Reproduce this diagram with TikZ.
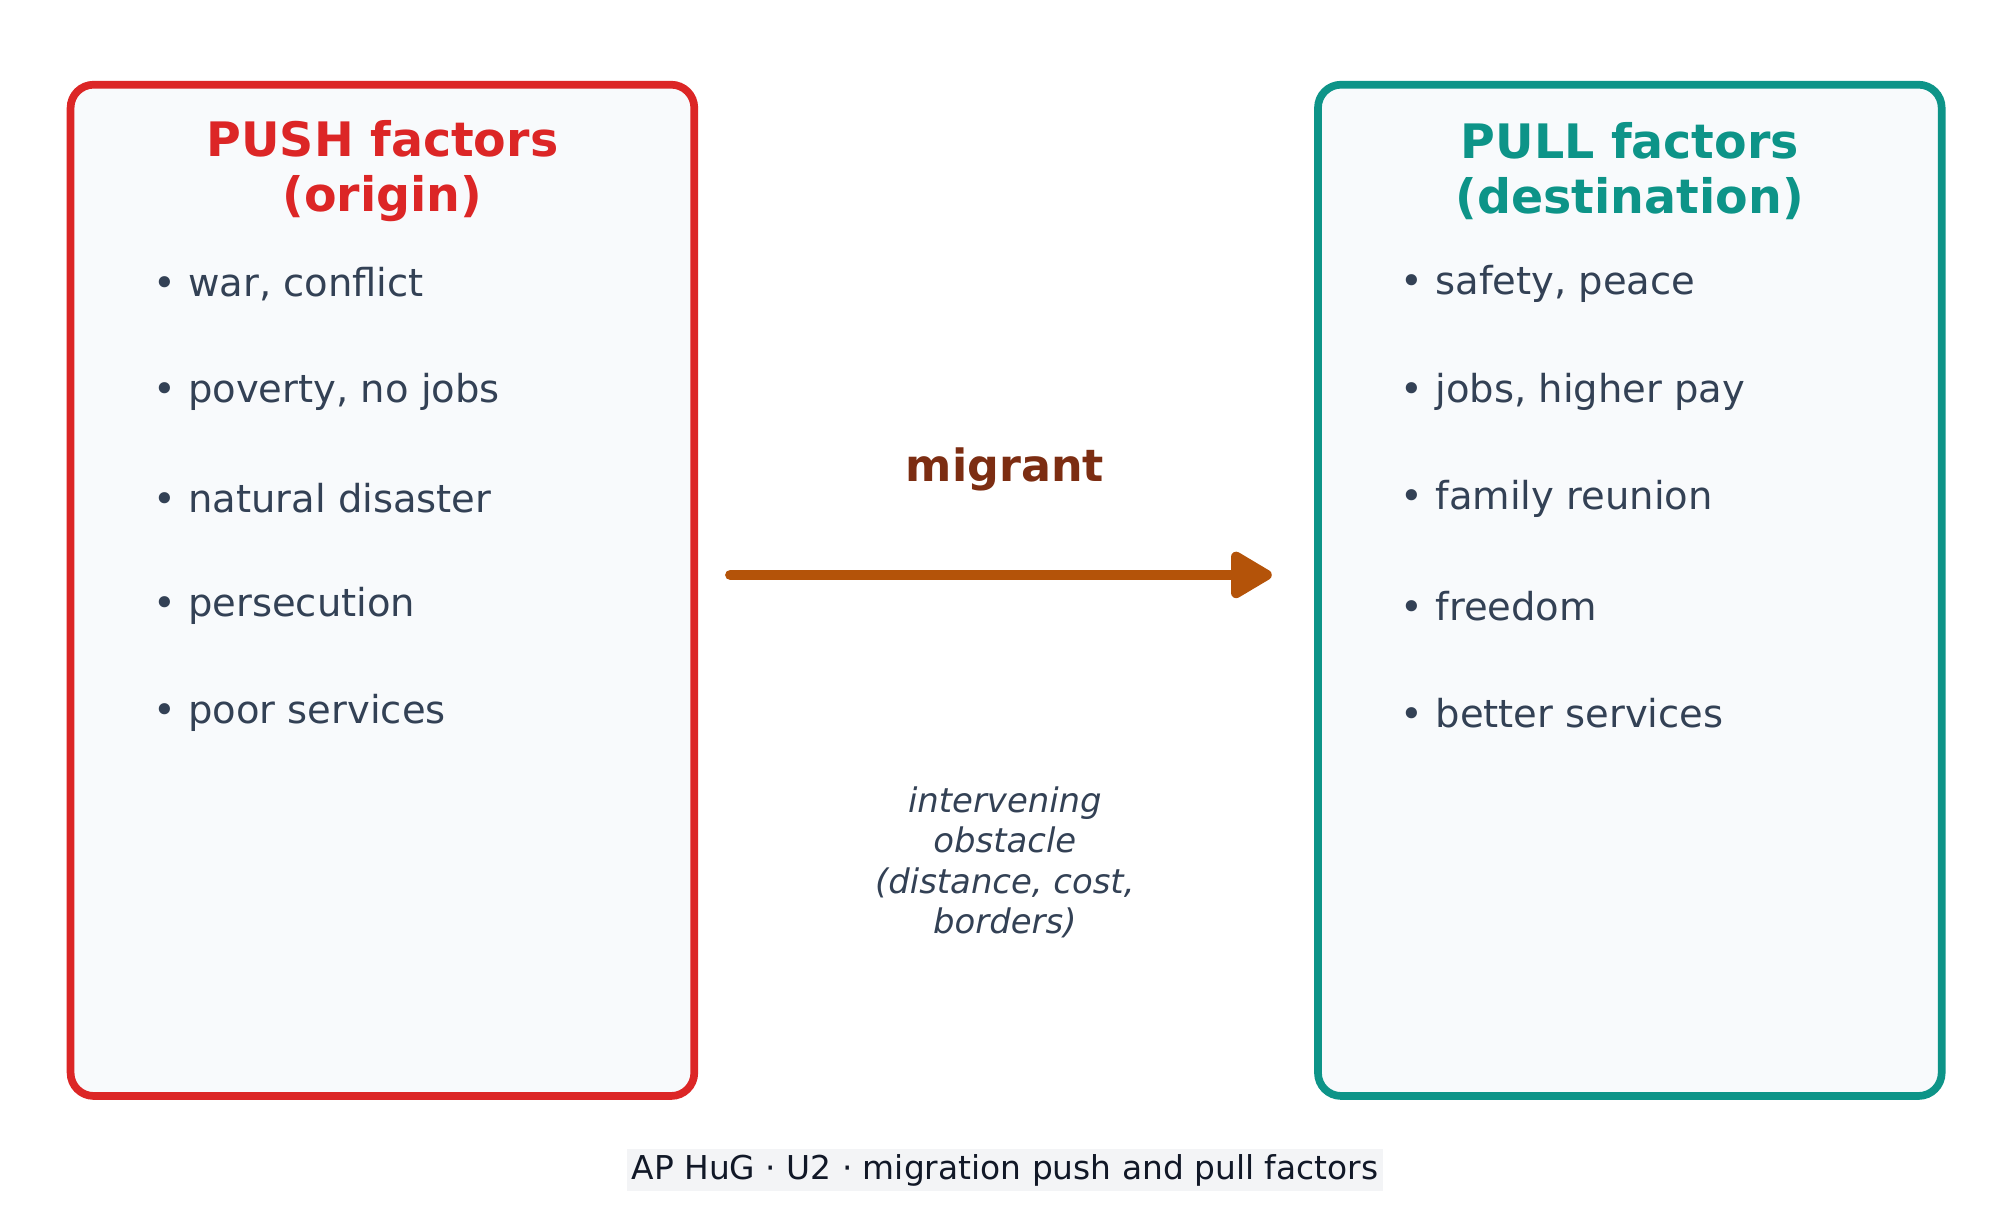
\documentclass[tikz,border=0pt]{standalone}
\usepackage{fontspec}
\setmainfont{DejaVu Sans}
\usetikzlibrary{positioning,arrows.meta}
\definecolor{pushred}{HTML}{DC2626}
\definecolor{pullteal}{HTML}{0D9488}
\definecolor{boxfill}{HTML}{F8FAFC}
\definecolor{itemtext}{HTML}{334155}
\definecolor{arrowbrown}{HTML}{B45309}
\definecolor{migbrown}{HTML}{7C2D12}
\definecolor{capfill}{HTML}{F3F4F6}
\definecolor{captext}{HTML}{111827}
\tikzset{
  factorbox/.style={line width=3pt, rounded corners=9pt, fill=boxfill},
  boxtitle/.style={font=\fontsize{18.5}{21.5}\selectfont\bfseries, align=center},
  item/.style={anchor=west, text=itemtext, font=\fontsize{15}{17}\selectfont, inner sep=0pt},
}
\begin{document}
\begin{tikzpicture}[x=0.5pt,y=-0.5pt]
		    \useasboundingbox (0,0) rectangle (1560,953);
		    
		    \draw [factorbox, draw=pushred] (55,66) rectangle (541,854);
		    \draw [factorbox, draw=pullteal] (1027,66) rectangle (1513,854);
		    
		    \node [boxtitle, text=pushred] (pushtitle) at (298,133) {PUSH factors\\(origin)};
		    \node [boxtitle, text=pullteal] (pulltitle) at (1270,133) {PULL factors\\(destination)};
		    
		    \foreach \txt [count=\i] in {{war, conflict}, {poverty, no jobs}, natural disaster, persecution, poor services}
		        \node [item] (push\i) at (119,138+83.5*\i) {• \txt};
		    \foreach \txt [count=\i] in {{safety, peace}, {jobs, higher pay}, family reunion, freedom, better services}
		        \node [item] (pull\i) at (1091,138+83.5*\i) {• \txt};
		    
		    \coordinate (from) at (569,448);
		    \coordinate (to) at (991,448);
			\draw [arrowbrown, line width=4pt, line cap=round, -{Triangle[length=18pt,width=20pt,round]}] (from) -- (to);
			
			\node [text=migbrown, font=\fontsize{17.3}{19}\selectfont\bfseries] (migrant) at (783,366) {migrant};
			\node [text=itemtext, font=\fontsize{13.2}{15.8}\selectfont\itshape, align=center] (obstacle) at (783,672) {intervening\\obstacle\\(distance, cost,\\borders)};
			
			\node [fill=capfill, text=captext, font=\fontsize{12.8}{14}\selectfont, inner sep=2pt] (caption) at (783,912) {AP HuG · U2 · migration push and pull factors};
		\end{tikzpicture}
\end{document}
